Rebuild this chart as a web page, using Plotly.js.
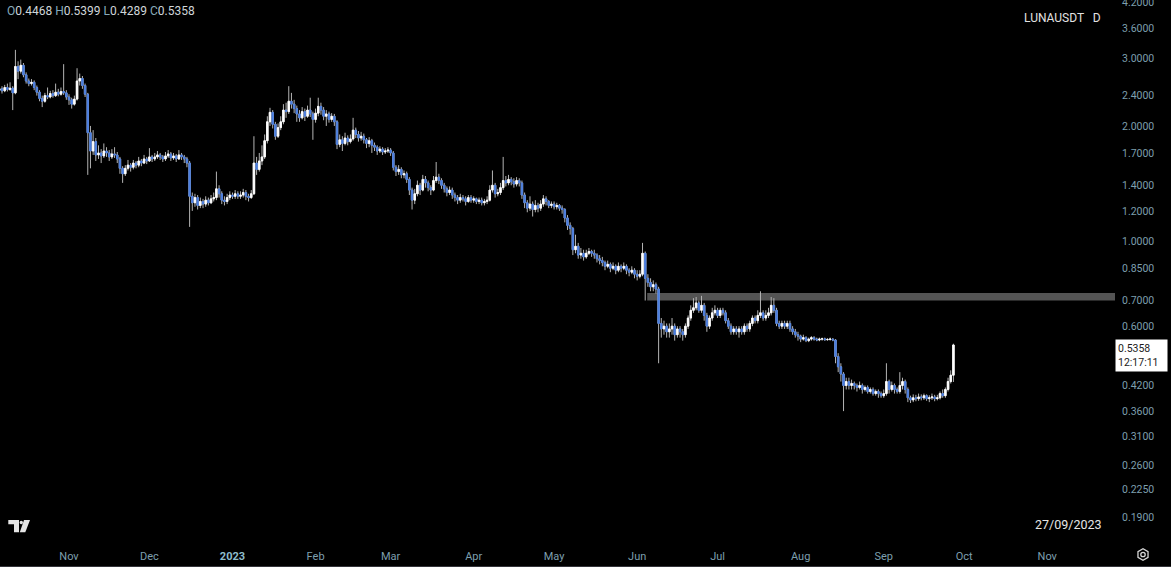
<!DOCTYPE html>
<html><head><meta charset="utf-8">
<script src="https://cdn.plot.ly/plotly-3.0.1.min.js"></script>
<style>html,body{margin:0;padding:0;background:#000;}#chart{width:1171px;height:567px;}</style>
</head><body><div id="chart"></div>
<script>
// Daily LUNA/USDT candles, first candle 2022-10-06
const firstDay = '2022-10-06';
const symbolLabel = 'LUNAUSDT   D';
const dateLabel = '27/09/2023';
const clockLabel = '12:17:11';

const opens = [
2.48,2.50,2.47,2.52,2.49,2.51,2.44,2.86,2.78,2.88,
2.72,2.62,2.58,2.60,2.52,2.45,2.36,2.32,2.40,2.38,
2.43,2.40,2.45,2.42,2.46,2.44,2.38,2.34,2.28,2.35,
2.62,2.66,2.55,2.42,1.92,1.72,1.82,1.68,1.70,1.67,
1.72,1.70,1.66,1.69,1.68,1.64,1.55,1.50,1.55,1.58,
1.56,1.60,1.58,1.62,1.60,1.64,1.62,1.66,1.64,1.66,
1.68,1.66,1.64,1.67,1.69,1.65,1.67,1.64,1.68,1.66,
1.64,1.60,1.31,1.26,1.30,1.24,1.27,1.25,1.28,1.26,
1.29,1.30,1.37,1.33,1.28,1.27,1.30,1.32,1.31,1.33,
1.31,1.32,1.34,1.31,1.30,1.33,1.60,1.54,1.62,1.66,
1.83,2.05,2.17,2.02,1.88,1.98,2.05,2.20,2.18,2.32,
2.28,2.22,2.15,2.10,2.18,2.12,2.20,2.15,2.08,2.16,
2.25,2.20,2.12,2.15,2.08,2.12,2.05,1.79,1.84,1.80,
1.86,1.82,1.85,1.95,1.90,1.86,1.88,1.84,1.80,1.83,
1.78,1.76,1.72,1.74,1.71,1.72,1.73,1.70,1.56,1.52,
1.54,1.49,1.50,1.45,1.36,1.28,1.33,1.40,1.36,1.45,
1.42,1.38,1.36,1.44,1.47,1.44,1.40,1.37,1.34,1.36,
1.32,1.30,1.28,1.30,1.29,1.27,1.30,1.28,1.29,1.27,
1.28,1.26,1.27,1.28,1.36,1.40,1.33,1.34,1.38,1.44,
1.42,1.45,1.43,1.41,1.44,1.42,1.32,1.26,1.22,1.25,
1.21,1.24,1.22,1.25,1.29,1.27,1.24,1.25,1.23,1.24,
1.22,1.21,1.15,1.10,1.08,0.95,0.97,0.92,0.93,0.91,
0.93,0.94,0.93,0.92,0.90,0.89,0.88,0.86,0.87,0.85,
0.86,0.84,0.86,0.85,0.86,0.84,0.83,0.84,0.82,0.81,
0.82,0.93,0.80,0.78,0.76,0.77,0.75,0.61,0.59,0.60,
0.58,0.59,0.60,0.57,0.59,0.58,0.57,0.60,0.63,0.66,
0.67,0.69,0.66,0.68,0.64,0.60,0.63,0.65,0.66,0.64,
0.66,0.65,0.62,0.60,0.58,0.59,0.58,0.59,0.58,0.60,
0.59,0.61,0.63,0.62,0.64,0.65,0.63,0.64,0.65,0.68,
0.66,0.61,0.60,0.61,0.60,0.61,0.59,0.58,0.57,0.565,
0.555,0.56,0.55,0.555,0.56,0.555,0.552,0.555,0.556,0.553,
0.554,0.555,0.552,0.50,0.47,0.45,0.42,0.43,0.42,0.425,
0.42,0.415,0.42,0.41,0.415,0.405,0.41,0.40,0.405,0.40,
0.395,0.40,0.43,0.41,0.42,0.41,0.405,0.42,0.43,0.41,
0.39,0.385,0.39,0.388,0.392,0.39,0.395,0.388,0.39,0.392,
0.388,0.39,0.40,0.395,0.41,0.43,0.4468];

const closes = [
2.50,2.47,2.52,2.49,2.51,2.44,2.86,2.78,2.88,2.72,
2.62,2.58,2.60,2.52,2.45,2.36,2.32,2.40,2.38,2.43,
2.40,2.45,2.42,2.46,2.44,2.38,2.34,2.28,2.35,2.62,
2.66,2.55,2.42,1.92,1.72,1.82,1.68,1.70,1.67,1.72,
1.70,1.66,1.69,1.68,1.64,1.55,1.50,1.55,1.58,1.56,
1.60,1.58,1.62,1.60,1.64,1.62,1.66,1.64,1.66,1.68,
1.66,1.64,1.67,1.69,1.65,1.67,1.64,1.68,1.66,1.64,
1.60,1.31,1.26,1.30,1.24,1.27,1.25,1.28,1.26,1.29,
1.30,1.37,1.33,1.28,1.27,1.30,1.32,1.31,1.33,1.31,
1.32,1.34,1.31,1.30,1.33,1.60,1.54,1.62,1.66,1.83,
2.05,2.17,2.02,1.88,1.98,2.05,2.20,2.18,2.32,2.28,
2.22,2.15,2.10,2.18,2.12,2.20,2.15,2.08,2.16,2.25,
2.20,2.12,2.15,2.08,2.12,2.05,1.79,1.84,1.80,1.86,
1.82,1.85,1.95,1.90,1.86,1.88,1.84,1.80,1.83,1.78,
1.76,1.72,1.74,1.71,1.72,1.73,1.70,1.56,1.52,1.54,
1.49,1.50,1.45,1.36,1.28,1.33,1.40,1.36,1.45,1.42,
1.38,1.36,1.44,1.47,1.44,1.40,1.37,1.34,1.36,1.32,
1.30,1.28,1.30,1.29,1.27,1.30,1.28,1.29,1.27,1.28,
1.26,1.27,1.28,1.36,1.40,1.33,1.34,1.38,1.44,1.42,
1.45,1.43,1.41,1.44,1.42,1.32,1.26,1.22,1.25,1.21,
1.24,1.22,1.25,1.29,1.27,1.24,1.25,1.23,1.24,1.22,
1.21,1.15,1.10,1.08,0.95,0.97,0.92,0.93,0.91,0.93,
0.94,0.93,0.92,0.90,0.89,0.88,0.86,0.87,0.85,0.86,
0.84,0.86,0.85,0.86,0.84,0.83,0.84,0.82,0.81,0.82,
0.93,0.80,0.78,0.76,0.77,0.75,0.61,0.59,0.60,0.58,
0.59,0.60,0.57,0.59,0.58,0.57,0.60,0.63,0.66,0.67,
0.69,0.66,0.68,0.64,0.60,0.63,0.65,0.66,0.64,0.66,
0.65,0.62,0.60,0.58,0.59,0.58,0.59,0.58,0.60,0.59,
0.61,0.63,0.62,0.64,0.65,0.63,0.64,0.65,0.68,0.66,
0.61,0.60,0.61,0.60,0.61,0.59,0.58,0.57,0.565,0.555,
0.56,0.55,0.555,0.56,0.555,0.552,0.555,0.556,0.553,0.554,
0.555,0.552,0.50,0.47,0.45,0.42,0.43,0.42,0.425,0.42,
0.415,0.42,0.41,0.415,0.405,0.41,0.40,0.405,0.40,0.395,
0.40,0.43,0.41,0.42,0.41,0.405,0.42,0.43,0.41,0.39,
0.385,0.39,0.388,0.392,0.39,0.395,0.388,0.39,0.392,0.388,
0.39,0.40,0.395,0.41,0.43,0.4468,0.5358];

const highs = [
2.55,2.54,2.56,2.58,2.60,2.54,3.16,2.95,2.98,2.92,
2.76,2.66,2.65,2.63,2.55,2.48,2.40,2.44,2.52,2.47,
2.48,2.58,2.50,2.52,2.90,2.48,2.42,2.37,2.40,2.83,
2.74,2.70,2.58,2.44,2.00,1.95,1.86,1.78,1.74,1.80,
1.76,1.73,1.74,1.76,1.71,1.66,1.57,1.58,1.63,1.60,
1.63,1.62,1.66,1.64,1.68,1.66,1.75,1.68,1.70,1.72,
1.70,1.68,1.71,1.73,1.71,1.70,1.69,1.73,1.70,1.68,
1.66,1.62,1.34,1.33,1.32,1.30,1.29,1.31,1.30,1.32,
1.34,1.52,1.40,1.35,1.31,1.33,1.35,1.34,1.36,1.35,
1.35,1.37,1.36,1.33,1.36,1.88,1.66,1.70,1.78,1.90,
2.12,2.23,2.20,2.05,2.03,2.12,2.28,2.30,2.54,2.44,
2.34,2.26,2.20,2.24,2.22,2.26,2.37,2.18,2.22,2.37,
2.30,2.24,2.20,2.18,2.16,2.15,2.07,1.90,1.88,1.92,
1.89,1.90,2.10,1.98,1.94,1.93,1.91,1.86,1.87,1.85,
1.81,1.78,1.77,1.76,1.75,1.76,1.75,1.72,1.58,1.58,
1.56,1.53,1.52,1.47,1.38,1.37,1.44,1.42,1.49,1.48,
1.44,1.40,1.48,1.61,1.50,1.46,1.42,1.39,1.39,1.38,
1.34,1.32,1.33,1.32,1.31,1.32,1.32,1.31,1.30,1.30,
1.30,1.29,1.31,1.40,1.53,1.42,1.37,1.42,1.66,1.48,
1.49,1.47,1.46,1.47,1.46,1.44,1.34,1.28,1.31,1.27,
1.28,1.26,1.28,1.32,1.31,1.28,1.27,1.27,1.26,1.25,
1.24,1.22,1.17,1.12,1.09,1.04,0.99,0.96,0.95,0.95,
0.96,0.95,0.95,0.93,0.92,0.91,0.89,0.89,0.88,0.88,
0.87,0.88,0.87,0.88,0.87,0.85,0.86,0.85,0.84,0.84,
0.99,0.94,0.82,0.80,0.79,0.78,0.76,0.63,0.62,0.61,
0.61,0.63,0.61,0.60,0.60,0.59,0.61,0.64,0.68,0.71,
0.715,0.70,0.72,0.69,0.65,0.64,0.67,0.68,0.67,0.67,
0.67,0.66,0.63,0.61,0.60,0.60,0.60,0.60,0.61,0.61,
0.62,0.64,0.64,0.66,0.74,0.66,0.66,0.67,0.715,0.71,
0.67,0.62,0.62,0.62,0.62,0.62,0.60,0.59,0.58,0.57,
0.57,0.565,0.56,0.565,0.565,0.56,0.56,0.56,0.56,0.558,
0.56,0.558,0.555,0.51,0.48,0.455,0.44,0.44,0.435,0.43,
0.425,0.43,0.425,0.42,0.42,0.415,0.415,0.41,0.41,0.405,
0.41,0.48,0.435,0.43,0.425,0.415,0.455,0.44,0.435,0.415,
0.395,0.398,0.397,0.40,0.398,0.40,0.398,0.396,0.40,0.397,
0.397,0.405,0.41,0.415,0.44,0.46,0.5399];

const lows = [
2.44,2.43,2.45,2.46,2.47,2.20,2.42,2.65,2.74,2.68,
2.58,2.54,2.55,2.48,2.40,2.32,2.24,2.30,2.35,2.36,
2.37,2.38,2.39,2.40,2.41,2.34,2.27,2.22,2.26,2.33,
2.55,2.50,2.38,1.49,1.55,1.68,1.62,1.64,1.60,1.65,
1.66,1.62,1.64,1.65,1.60,1.50,1.42,1.48,1.53,1.52,
1.54,1.55,1.56,1.57,1.59,1.59,1.61,1.61,1.62,1.64,
1.63,1.61,1.62,1.65,1.62,1.63,1.61,1.63,1.63,1.60,
1.56,1.09,1.20,1.23,1.21,1.22,1.22,1.23,1.24,1.25,
1.27,1.28,1.30,1.25,1.24,1.25,1.28,1.29,1.29,1.29,
1.29,1.30,1.28,1.27,1.29,1.32,1.49,1.52,1.58,1.64,
1.80,2.00,1.97,1.84,1.86,1.95,2.02,2.10,2.15,2.22,
2.16,2.05,2.05,2.08,2.06,2.10,2.11,1.84,2.04,2.12,
2.14,2.07,2.00,2.04,2.05,2.00,1.74,1.76,1.72,1.78,
1.78,1.80,1.83,1.86,1.82,1.83,1.80,1.75,1.76,1.70,
1.72,1.68,1.70,1.68,1.69,1.70,1.67,1.53,1.48,1.49,
1.46,1.46,1.42,1.32,1.21,1.25,1.31,1.32,1.35,1.38,
1.35,1.32,1.35,1.42,1.41,1.37,1.34,1.31,1.32,1.29,
1.27,1.25,1.26,1.27,1.24,1.26,1.26,1.26,1.25,1.25,
1.24,1.24,1.25,1.27,1.34,1.30,1.31,1.32,1.36,1.39,
1.40,1.40,1.38,1.39,1.39,1.29,1.22,1.19,1.20,1.16,
1.19,1.19,1.20,1.23,1.24,1.22,1.22,1.21,1.21,1.20,
1.18,1.12,1.07,1.04,0.92,0.93,0.90,0.90,0.89,0.90,
0.92,0.91,0.90,0.88,0.87,0.86,0.84,0.85,0.83,0.84,
0.82,0.83,0.83,0.84,0.82,0.81,0.82,0.80,0.79,0.80,
0.81,0.70,0.76,0.74,0.74,0.73,0.48,0.56,0.57,0.56,
0.56,0.57,0.55,0.56,0.56,0.55,0.56,0.59,0.62,0.65,
0.66,0.65,0.65,0.62,0.58,0.59,0.62,0.64,0.63,0.63,
0.64,0.61,0.59,0.57,0.57,0.57,0.56,0.57,0.57,0.58,
0.58,0.60,0.61,0.61,0.63,0.62,0.62,0.63,0.64,0.65,
0.60,0.59,0.59,0.59,0.59,0.58,0.57,0.56,0.55,0.545,
0.55,0.545,0.545,0.55,0.55,0.548,0.548,0.55,0.55,0.55,
0.55,0.548,0.48,0.455,0.43,0.36,0.41,0.41,0.41,0.41,
0.405,0.41,0.40,0.405,0.40,0.40,0.395,0.395,0.39,0.39,
0.39,0.395,0.40,0.405,0.40,0.40,0.40,0.41,0.40,0.38,
0.378,0.38,0.382,0.383,0.384,0.385,0.383,0.38,0.385,0.382,
0.384,0.386,0.39,0.39,0.405,0.425,0.4289];

// Axis ticks
const priceTicks = [4.2,3.6,3.0,2.4,2.0,1.7,1.4,1.2,1.0,0.85,0.7,0.6,0.42,0.36,0.31,0.26,0.225,0.19];
const priceTickText = ['4.2000','3.6000','3.0000','2.4000','2.0000','1.7000','1.4000','1.2000','1.0000','0.8500','0.7000','0.6000','0.4200','0.3600','0.3100','0.2600','0.2250','0.1900'];
const monthTicks = ['2022-11-01','2022-12-01','2023-01-01','2023-02-01','2023-03-01','2023-04-01','2023-05-01','2023-06-01','2023-07-01','2023-08-01','2023-09-01','2023-10-01','2023-11-01'];
const monthLabels = ['Nov','Dec','2023','Feb','Mar','Apr','May','Jun','Jul','Aug','Sep','Oct','Nov'];
const yearLabels = ['2023'];

// Resistance zone
const zoneStart = '2023-06-04 18:00';
const zoneLow = 0.70;
const zoneHigh = 0.732;

// view window
const viewStart = '2022-10-06 06:00';
const viewEnd = '2023-11-26 07:00';
const viewLow = 0.16584, viewHigh = 4.265;

const dates = closes.map((_, i) => new Date(Date.UTC(2022, 9, 6 + i)).toISOString().slice(0, 10));
const bodyHigh = opens.map((o, i) => Math.max(o, closes[i]));
const bodyLow = opens.map((o, i) => Math.min(o, closes[i]));

const UP = '#ffffff', DOWN = '#4a7de0', WICK = '#b4b4b4';
const FONT = 'Roboto, "Liberation Sans", sans-serif';

const wickTrace = {
  type: 'candlestick', x: dates, open: opens, high: highs, low: lows, close: closes,
  increasing: {line: {color: WICK, width: 1}, fillcolor: UP},
  decreasing: {line: {color: WICK, width: 1}, fillcolor: DOWN},
  whiskerwidth: 0, hoverinfo: 'skip', showlegend: false
};
const bodyTrace = {
  type: 'candlestick', x: dates, open: opens, high: bodyHigh, low: bodyLow, close: closes,
  increasing: {line: {color: UP, width: 0.8}, fillcolor: UP},
  decreasing: {line: {color: DOWN, width: 0.8}, fillcolor: DOWN},
  whiskerwidth: 0, hoverinfo: 'skip', showlegend: false
};

const n = closes.length - 1;
const L = (s) => `<span style="color:#86aabb">${s}</span>`;
const V = (v) => `<span style="color:#cfd5d9">${v.toFixed(4)}</span>`;
const ohlcText = `${L('O')}${V(opens[n])} ${L('H')}${V(highs[n])} ${L('L')}${V(lows[n])} ${L('C')}${V(closes[n])}`;

const PW = 1115, PH = 540;
const px = (x) => x / PW, py = (y) => 1 - y / PH;

// TradingView logo path (decoration)
const logo = `M ${px(8.3)} ${py(520)} L ${px(19)} ${py(520)} L ${px(19)} ${py(532.3)} L ${px(14)} ${py(532.3)} L ${px(14)} ${py(524.2)} L ${px(8.3)} ${py(524.2)} Z`;
const slash = `M ${px(24)} ${py(520)} L ${px(30)} ${py(520)} L ${px(25.3)} ${py(532.3)} L ${px(19.8)} ${py(532.3)} Z`;
// settings icon hexagon
const cx = 1143, cy = 554.5, r = 5.8;
let hex = '';
for (let k = 0; k < 6; k++) {
  const a = Math.PI / 6 + k * Math.PI / 3;
  hex += (k ? ' L ' : 'M ') + px(cx + r * Math.cos(a)) + ' ' + py(cy + r * Math.sin(a));
}
hex += ' Z';

const layout = {
  width: 1171, height: 567,
  margin: {l: 0, r: 56, t: 0, b: 27},
  paper_bgcolor: '#000', plot_bgcolor: '#000',
  showlegend: false, hovermode: false, dragmode: false,
  boxgap: 0.2,
  font: {family: FONT, color: '#7d9fae', size: 11},
  xaxis: {
    type: 'date', range: [viewStart, viewEnd],
    rangeslider: {visible: false},
    tickmode: 'array', tickvals: monthTicks,
    ticktext: monthLabels.map(t => yearLabels.includes(t) ? `<b><span style="color:#8dbccc">${t}</span></b>` : t),
    showgrid: false, zeroline: false, showline: false, ticks: '',
    tickfont: {family: FONT, color: '#7d9fae', size: 11},
    ticklabelstandoff: 8, fixedrange: true
  },
  yaxis: {
    type: 'log', side: 'right',
    range: [Math.log10(viewLow), Math.log10(viewHigh)],
    tickmode: 'array', tickvals: priceTicks, ticktext: priceTickText,
    showgrid: false, zeroline: false, showline: false, ticks: '',
    tickfont: {family: FONT, color: '#7d9fae', size: 10.5},
    ticklabelstandoff: 6, ticklabeloverflow: 'allow', fixedrange: true
  },
  shapes: [
    {type: 'rect', xref: 'x', yref: 'y', x0: zoneStart, x1: viewEnd,
     y0: zoneLow, y1: zoneHigh,
     fillcolor: '#545454', line: {width: 0}, layer: 'below'},
    {type: 'path', xref: 'paper', yref: 'paper', path: logo, fillcolor: '#e6e6e6', line: {width: 0}},
    {type: 'path', xref: 'paper', yref: 'paper', path: slash, fillcolor: '#e6e6e6', line: {width: 0}},
    {type: 'circle', xref: 'paper', yref: 'paper', x0: px(19.6), x1: px(23), y0: py(524.2), y1: py(520.8), fillcolor: '#e6e6e6', line: {width: 0}},
    {type: 'path', xref: 'paper', yref: 'paper', path: hex, line: {color: '#d6d6d6', width: 1.3}},
    {type: 'circle', xref: 'paper', yref: 'paper', x0: px(cx - 2.2), x1: px(cx + 2.2), y0: py(cy + 2.2), y1: py(cy - 2.2), line: {color: '#d6d6d6', width: 1.3}},
    {type: 'line', xref: 'paper', yref: 'paper', x0: 0, x1: 1171 / PW, y0: py(566.5), y1: py(566.5), line: {color: '#34343a', width: 1}}
  ],
  annotations: [
    {xref: 'paper', yref: 'paper', x: 0, y: 1, xanchor: 'left', yanchor: 'top', xshift: 5, yshift: -2,
     text: ohlcText, showarrow: false, font: {family: FONT, size: 12}},
    {xref: 'paper', yref: 'paper', x: 1, y: 1, xanchor: 'right', yanchor: 'top', xshift: -12, yshift: -9,
     text: symbolLabel, showarrow: false, font: {family: FONT, size: 12, color: '#e2e2e2'}},
    {xref: 'paper', yref: 'paper', x: 1, y: 0, xanchor: 'right', yanchor: 'bottom', xshift: -11, yshift: 6,
     text: dateLabel, showarrow: false, font: {family: FONT, size: 12.5, color: '#e6e6e6'}},
    {xref: 'paper', yref: 'y', x: 1, y: Math.log10(closes[n]), xanchor: 'left', yanchor: 'top', yshift: 6,
     text: closes[n].toFixed(4) + '<br>' + clockLabel, showarrow: false, align: 'left',
     bgcolor: '#ffffff', borderpad: 2, width: 47,
     font: {family: FONT, size: 10.5, color: '#1a1a1a'}}
  ]
};

Plotly.newPlot('chart', [wickTrace, bodyTrace], layout, {staticPlot: true, displayModeBar: false});
</script>
</body></html>
